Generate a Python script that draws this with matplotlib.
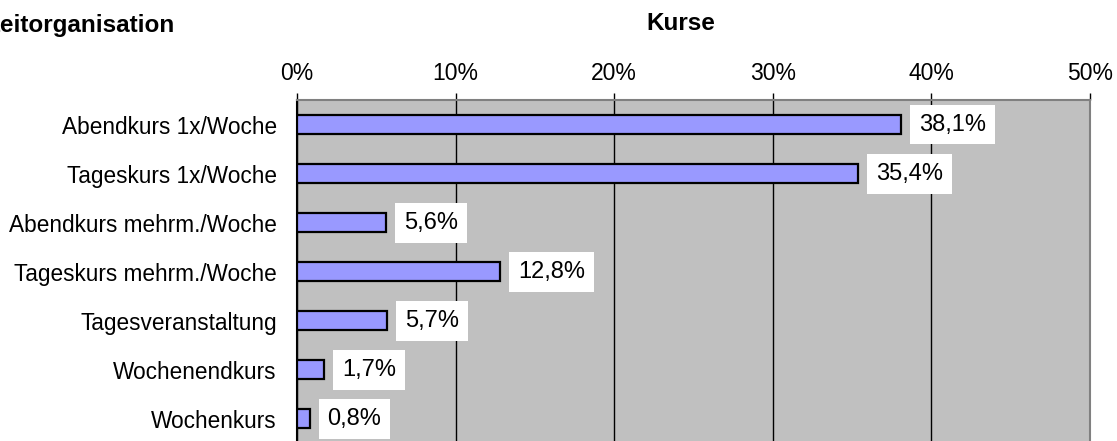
import matplotlib.pyplot as plt
from matplotlib.ticker import FuncFormatter

plt.rcParams['font.family'] = ['Liberation Sans', 'DejaVu Sans']

categories = ["Abendkurs 1x/Woche", "Tageskurs 1x/Woche", "Abendkurs mehrm./Woche",
              "Tageskurs mehrm./Woche", "Tagesveranstaltung", "Wochenendkurs", "Wochenkurs"]
values = [38.1, 35.4, 5.6, 12.8, 5.7, 1.7, 0.8]
ticks = [0, 10, 20, 30, 40, 50]

fig = plt.figure(figsize=(11.17, 4.41), dpi=100)
ax = fig.add_axes([297 / 1117, -0.005, 793 / 1117, 1 - 100 / 441 + 0.005])
ax.set_facecolor("#C0C0C0")

pos = list(range(len(categories)))
ax.barh(pos, values, height=0.39, color="#9999FF", edgecolor="black", linewidth=1.6, zorder=3)

# value labels in white boxes right of the bars
for y, v in zip(pos, values):
    ax.text(v + 1.13, y, f"{v:.1f}%".replace(".", ","), va="center", ha="left", fontsize=17,
            bbox=dict(facecolor="white", edgecolor="none", pad=6.5), zorder=4)

ax.set_xlim(0, 50)
ax.set_ylim(6.5, -0.5)
ax.set_xticks(ticks)
ax.xaxis.set_major_formatter(FuncFormatter(lambda x, p: f"{x:.0f}%"))
ax.xaxis.tick_top()
ax.tick_params(axis="x", length=5, width=1, labelsize=16.5, pad=6, color="black")
ax.set_yticks(pos)
ax.set_yticklabels(categories, fontsize=16.3)
ax.tick_params(axis="y", length=0, pad=14.5)
ax.grid(axis="x", color="black", linewidth=1, zorder=1)

for side in ["top", "right", "bottom"]:
    ax.spines[side].set_color("#808080")
    ax.spines[side].set_linewidth(1.5)
ax.spines["left"].set_color("black")
ax.spines["left"].set_linewidth(1.5)

fig.text(-0.0133, 0.943, "Zeitorganisation", fontsize=17.5, fontweight="bold", ha="left", va="center")
fig.text(681 / 1117, 0.947, "Kurse", fontsize=17.5, fontweight="bold", ha="center", va="center")

fig.savefig("out.png", dpi=100)
